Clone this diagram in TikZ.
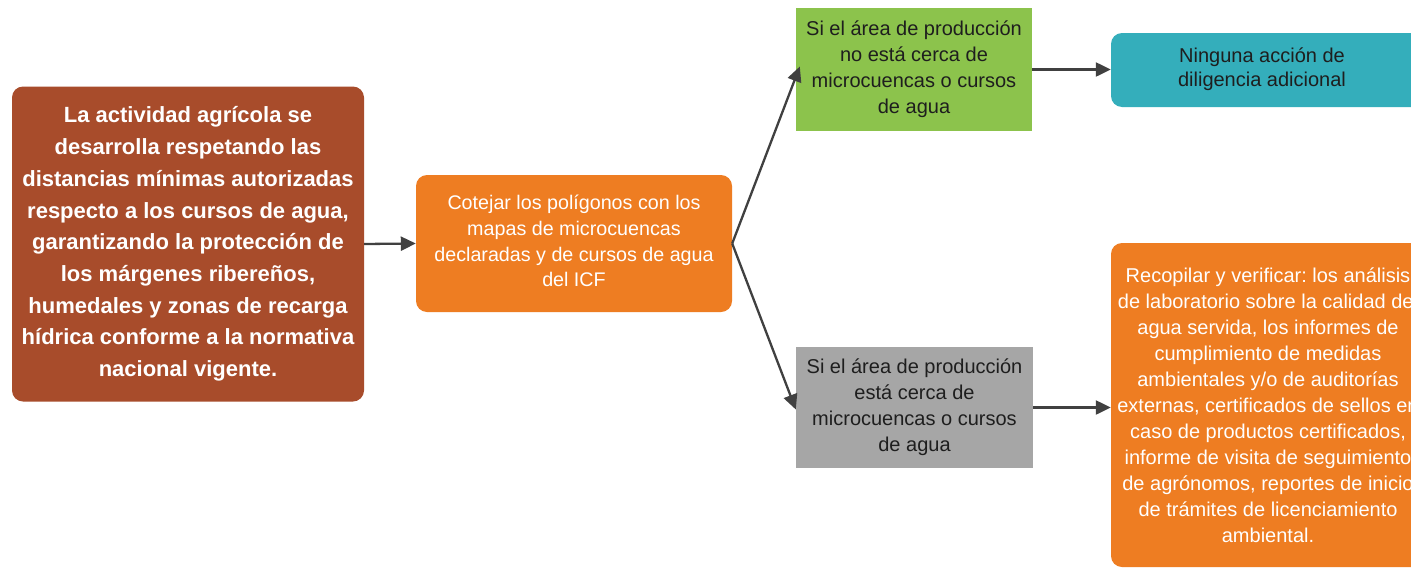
\documentclass[tikz,border=0pt]{standalone}
\usepackage{fontspec}
\setmainfont{Liberation Sans}
\usetikzlibrary{arrows.meta}
\frenchspacing
\definecolor{cbrown}{HTML}{A84C2B}
\definecolor{corange}{HTML}{EE7D22}
\definecolor{cgreen}{HTML}{8CC34C}
\definecolor{cteal}{HTML}{34AEBB}
\definecolor{cgray}{HTML}{A6A6A6}
\definecolor{carrow}{HTML}{404040}
\definecolor{ctext}{HTML}{1E1E1E}
\tikzset{
  box/.style={inner sep=0pt, align=center, draw=none},
  roundbox/.style={box, rounded corners=11pt},
  conn/.style={draw=carrow, line width=2.3pt, -{Triangle[length=15pt,width=14pt]}},
  bodytext/.style={font=\fontsize{20}{26}\selectfont},
}
\begin{document}
\frenchspacing
\begin{tikzpicture}[x=1pt,y=-1pt]
\useasboundingbox (0,0) rectangle (1411,568);
\clip (0,0) rectangle (1411,568);
\fill[white] (0,0) rectangle (1411,568);

\node[roundbox, fill=cbrown, text=white, minimum width=352pt, minimum height=315pt,
  font=\fontsize{22}{31.7}\selectfont\bfseries] (brown) at (188,244)
  {La actividad agrícola se\\desarrolla respetando las\\distancias mínimas autorizadas\\respecto a los cursos de agua,\\garantizando la protección de\\los márgenes ribereños,\\humedales y zonas de recarga\\hídrica conforme a la normativa\\nacional vigente.};

\node[roundbox, fill=corange, minimum width=316pt, minimum height=137pt] (cotejar) at (574,243.5) {};
\node[box, text=white, font=\fontsize{19.7}{25.7}\selectfont] (cotejartext) at (574,241)
  {Cotejar los polígonos con los\\mapas de microcuencas\\declaradas y de cursos de agua\\del ICF};

\node[box, fill=cgreen, text=ctext, minimum width=236pt, minimum height=123pt, bodytext] (green) at (914,69.5)
  {Si el área de producción\\no está cerca de\\microcuencas o cursos\\de agua};

\node[roundbox, fill=cteal, minimum width=314pt, minimum height=74pt] (teal) at (1268,70) {};
\node[box, text=ctext, font=\fontsize{20}{24}\selectfont] (tealtext) at (1262,69)
  {Ninguna acción de\\diligencia adicional};

\node[box, fill=cgray, text=ctext, minimum width=237pt, minimum height=121pt, bodytext] (gray) at (914.5,407.5)
  {Si el área de producción\\está cerca de\\microcuencas o cursos\\de agua};

\node[roundbox, fill=corange, text=white, minimum width=314pt, minimum height=324pt, bodytext] (recop) at (1268,405)
  {Recopilar y verificar: los análisis\\de laboratorio sobre la calidad del\\agua servida, los informes de\\cumplimiento de medidas\\ambientales y/o de auditorías\\externas, certificados de sellos en\\caso de productos certificados,\\informe de visita de seguimiento\\de agrónomos, reportes de inicio\\de trámites de licenciamiento\\ambiental.};

\draw[conn] (brown.east) -- (cotejar.west);
\draw[conn] (cotejar.east) -- ([xshift=4pt,yshift=3pt]green.west);
\draw[conn] (cotejar.east) -- ([yshift=-2pt]gray.west);
\draw[conn] (green.east) -- (green.east -| teal.west);
\draw[conn] (gray.east) -- (gray.east -| recop.west);
\end{tikzpicture}
\end{document}
